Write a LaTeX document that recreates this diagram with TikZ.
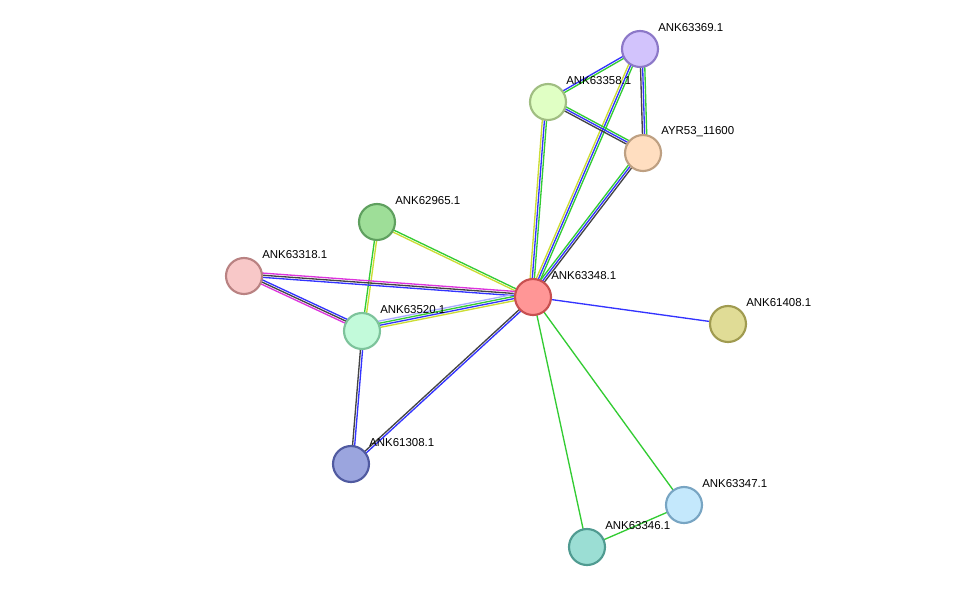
\documentclass[tikz,border=0pt]{standalone}
\usepackage{fontspec}
\setmainfont{Liberation Sans}
\usetikzlibrary{calc}
\definecolor{egreen}{HTML}{33CC33}
\definecolor{eblue}{HTML}{3333FF}
\definecolor{eyellow}{HTML}{CCDD33}
\definecolor{eblack}{HTML}{444444}
\definecolor{emagenta}{HTML}{DD33DD}
\definecolor{elight}{HTML}{AAAAFF}
\newcommand{\stredge}[3]{%
  \foreach \c [count=\i] in {#3} {%
    \pgfmathsetmacro{\off}{(\i-1)*1.6}%
    \draw[draw=e\c, line width=1pt] ($(#1)!\off pt!90:(#2)$) -- ($(#2)!\off pt!-90:(#1)$);
  }%
}
\begin{document}
\begin{tikzpicture}[x=0.75pt,y=-0.75pt,
  prot/.style={circle, minimum size=27pt, inner sep=0pt, line width=1.6pt},
  lab/.style={font=\fontsize{8.6pt}{10pt}\selectfont, anchor=west, inner sep=0pt}]
\useasboundingbox[fill=white] (0,0) rectangle (976,593);
\coordinate (a) at (533,297);
\coordinate (b) at (640,49);
\coordinate (c) at (548,102);
\coordinate (d) at (643,153);
\coordinate (e) at (377,222);
\coordinate (f) at (244,276);
\coordinate (g) at (362,331);
\coordinate (h) at (728,324);
\coordinate (i) at (351,464);
\coordinate (j) at (684,505);
\coordinate (k) at (587,547);
\stredge{a}{b}{green,blue,yellow}
\stredge{a}{c}{green,blue,yellow}
\stredge{a}{d}{black,blue,green}
\stredge{c}{b}{green,blue}
\stredge{c}{d}{black,blue,green}
\stredge{b}{d}{black,blue,green}
\stredge{a}{e}{green,yellow}
\stredge{e}{g}{green,yellow}
\stredge{f}{a}{blue,black,magenta}
\stredge{f}{g}{magenta,black,blue}
\stredge{g}{a}{yellow,blue,green,light}
\stredge{a}{i}{black,blue}
\stredge{g}{i}{black,blue}
\stredge{a}{h}{blue}
\stredge{a}{k}{green}
\stredge{a}{j}{green}
\stredge{k}{j}{green}
\node[prot, fill={rgb,255:red,255;green,150;blue,150}, draw={rgb,255:red,200;green,80;blue,80}] (na) at (a) {};
\node[prot, fill={rgb,255:red,210;green,195;blue,252}, draw={rgb,255:red,140;green,120;blue,200}] (nb) at (b) {};
\node[prot, fill={rgb,255:red,224;green,255;blue,196}, draw={rgb,255:red,160;green,190;blue,130}] (nc) at (c) {};
\node[prot, fill={rgb,255:red,255;green,222;blue,192}, draw={rgb,255:red,190;green,160;blue,130}] (nd) at (d) {};
\node[prot, fill={rgb,255:red,158;green,222;blue,152}, draw={rgb,255:red,95;green,160;blue,95}] (ne) at (e) {};
\node[prot, fill={rgb,255:red,248;green,200;blue,200}, draw={rgb,255:red,185;green,130;blue,130}] (nf) at (f) {};
\node[prot, fill={rgb,255:red,194;green,250;blue,218}, draw={rgb,255:red,125;green,195;blue,155}] (ng) at (g) {};
\node[prot, fill={rgb,255:red,224;green,220;blue,150}, draw={rgb,255:red,160;green,155;blue,80}] (nh) at (h) {};
\node[prot, fill={rgb,255:red,155;green,165;blue,222}, draw={rgb,255:red,80;green,90;blue,160}] (ni) at (i) {};
\node[prot, fill={rgb,255:red,196;green,232;blue,252}, draw={rgb,255:red,120;green,165;blue,195}] (nj) at (j) {};
\node[prot, fill={rgb,255:red,155;green,222;blue,212}, draw={rgb,255:red,80;green,155;blue,145}] (nk) at (k) {};
\node[lab] (la) at (551,276) {ANK63348.1};
\node[lab] (lb) at (658,28) {ANK63369.1};
\node[lab] (lc) at (566,81) {ANK63358.1};
\node[lab] (ld) at (661,132) {AYR53\_11600};
\node[lab] (le) at (395,201) {ANK62965.1};
\node[lab] (lf) at (262,255) {ANK63318.1};
\node[lab] (lg) at (380,310) {ANK63520.1};
\node[lab] (lh) at (746,303) {ANK61408.1};
\node[lab] (li) at (369,443) {ANK61308.1};
\node[lab] (lj) at (702,484) {ANK63347.1};
\node[lab] (lk) at (605,526) {ANK63346.1};
\end{tikzpicture}
\end{document}
